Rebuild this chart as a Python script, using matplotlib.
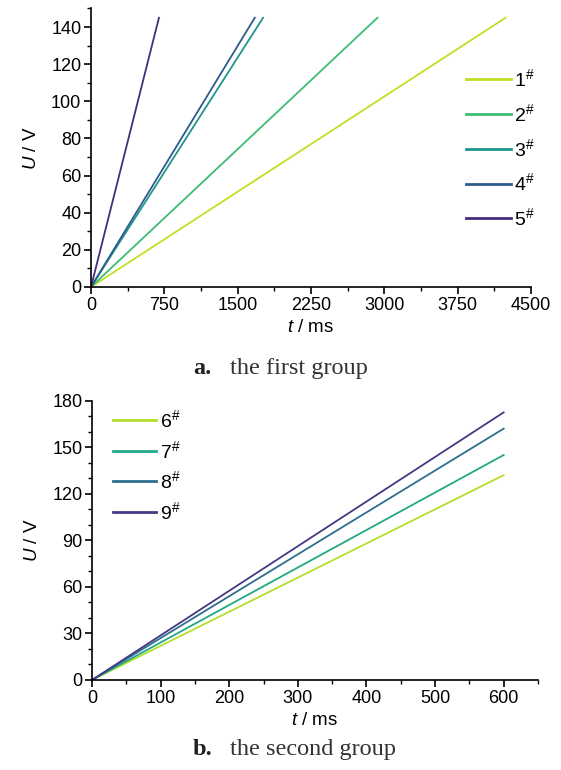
import matplotlib
matplotlib.use("Agg")
import matplotlib.pyplot as plt
from matplotlib.ticker import MultipleLocator

# group a: (t end in ms, U end in V) for each sample
labels_a = ["1", "2", "3", "4", "5"]
t_end_a = [4240, 2930, 1760, 1675, 695]
u_end_a = [145, 145, 145, 145, 145]
colors_a = ["#c2df23", "#3dbc74", "#1f968b", "#2d5b8c", "#472d7b"]

# group b
labels_b = ["6", "7", "8", "9"]
t_end_b = [600, 600, 600, 600]
u_end_b = [132, 145, 162, 172.5]
colors_b = ["#b5de2b", "#22a884", "#2e6e8e", "#443983"]

plt.rcParams['font.family'] = ['Liberation Sans', 'DejaVu Sans']
plt.rcParams['mathtext.fontset'] = 'custom'
plt.rcParams['mathtext.rm'] = 'Liberation Sans'
plt.rcParams['mathtext.it'] = 'Liberation Sans:italic'

fig = plt.figure(figsize=(5.61, 7.70), dpi=100)
ax1 = fig.add_axes([0.1622, 0.6273, 0.7843, 0.3617])
ax2 = fig.add_axes([0.164, 0.1169, 0.795, 0.3627])


def style(ax):
    for s in ["top", "right"]:
        ax.spines[s].set_visible(False)
    for s in ["left", "bottom"]:
        ax.spines[s].set_linewidth(1.2)
    ax.tick_params(which="major", direction="out", length=5, width=1.2, labelsize=13, pad=2)
    ax.tick_params(which="minor", direction="out", length=3, width=1.0)


for i in range(len(labels_a)):
    ax1.plot([0, t_end_a[i]], [0, u_end_a[i]], color=colors_a[i], lw=1.3,
             label=labels_a[i] + r"$^{\#}$")
ax1.set_xlim(0, 4500)
ax1.set_ylim(0, 150)
ax1.xaxis.set_major_locator(MultipleLocator(750))
ax1.xaxis.set_minor_locator(MultipleLocator(375))
ax1.yaxis.set_minor_locator(MultipleLocator(10))
ax1.set_yticks([0, 20, 40, 60, 80, 100, 120, 140])
style(ax1)
ax1.set_xlabel(r"$\mathit{t}$ / ms", fontsize=13.5, labelpad=4)
ax1.set_ylabel(r"$\mathit{U}$ / V", fontsize=13.5, labelpad=8)
leg1 = ax1.legend(loc="upper left", bbox_to_anchor=(0.852, 0.785), frameon=False, fontsize=14,
                  handlelength=2.3, labelspacing=0.66, handletextpad=0.2,
                  borderpad=0, borderaxespad=0)
for h in leg1.legend_handles:
    h.set_linewidth(2)

for i in range(len(labels_b)):
    ax2.plot([0, t_end_b[i]], [0, u_end_b[i]], color=colors_b[i], lw=1.3,
             label=labels_b[i] + r"$^{\#}$")
ax2.set_xlim(0, 650)
ax2.set_ylim(0, 180)
ax2.xaxis.set_major_locator(MultipleLocator(100))
ax2.xaxis.set_minor_locator(MultipleLocator(50))
ax2.yaxis.set_major_locator(MultipleLocator(30))
ax2.yaxis.set_minor_locator(MultipleLocator(10))
style(ax2)
ax2.set_xlabel(r"$\mathit{t}$ / ms", fontsize=13.5, labelpad=4)
ax2.set_ylabel(r"$\mathit{U}$ / V", fontsize=13.5, labelpad=8)
leg2 = ax2.legend(loc="upper left", bbox_to_anchor=(0.047, 0.97), frameon=False, fontsize=14,
                  handlelength=2.2, labelspacing=0.45, handletextpad=0.2,
                  borderpad=0, borderaxespad=0)
for h in leg2.legend_handles:
    h.set_linewidth(2)

fig.text(0.344, 0.522, "a.", fontsize=17.5, fontweight="bold", family="Liberation Serif",
         color="#222222", ha="left", va="center")
fig.text(0.41, 0.522, "the first group", fontsize=17.5, family="Liberation Serif",
         color="#333333", ha="left", va="center")
fig.text(0.344, 0.026, "b.", fontsize=17.5, fontweight="bold", family="Liberation Serif",
         color="#222222", ha="left", va="center")
fig.text(0.41, 0.026, "the second group", fontsize=17.5, family="Liberation Serif",
         color="#333333", ha="left", va="center")

fig.savefig("out.png", dpi=100)
